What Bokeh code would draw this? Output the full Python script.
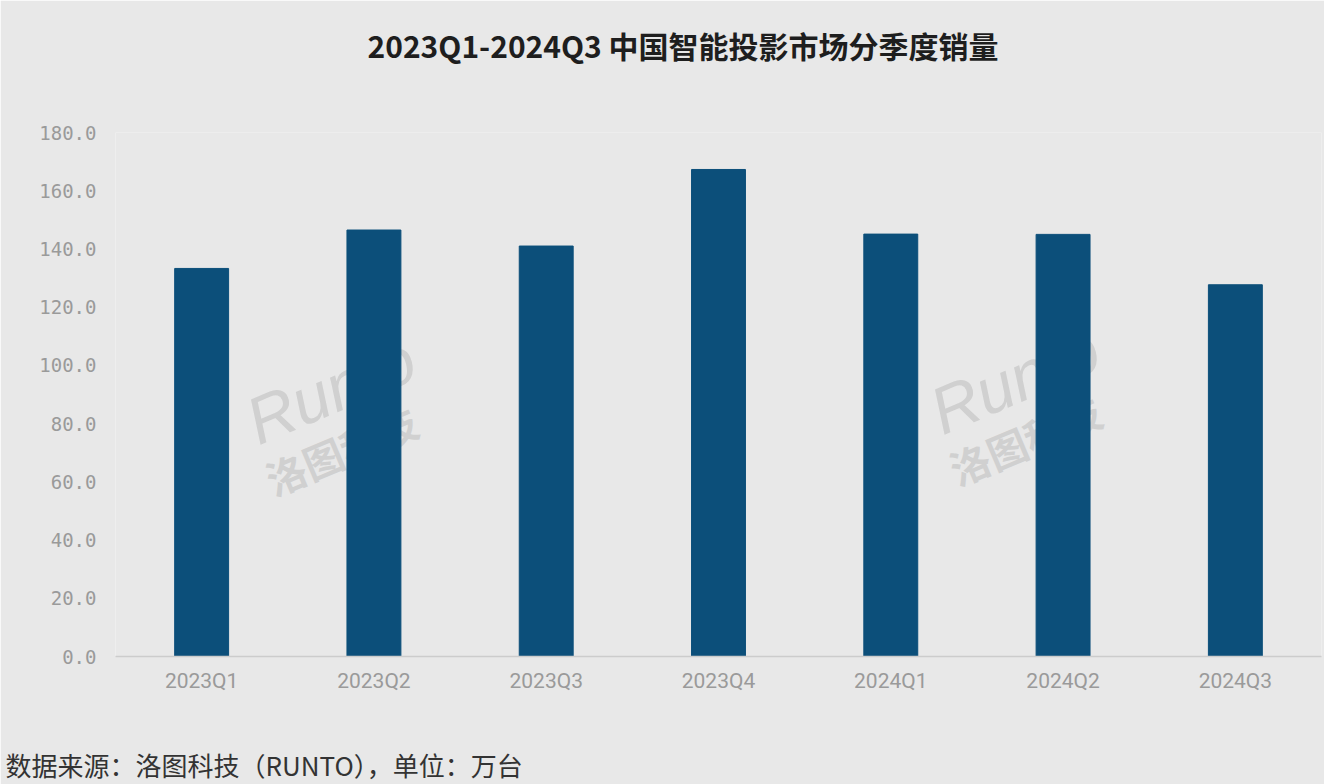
from bokeh.plotting import figure
from bokeh.models import FactorRange, Range1d, Label, NumeralTickFormatter, FixedTicker, Title
from bokeh.embed import file_html
from bokeh.resources import INLINE

quarters = ["2023Q1", "2023Q2", "2023Q3", "2023Q4", "2024Q1", "2024Q2", "2024Q3"]
sales = [133.3, 146.5, 141.0, 167.3, 145.1, 145.0, 127.7]
y_ticks = [0, 20, 40, 60, 80, 100, 120, 140, 160, 180]
title_text = "2023Q1-2024Q3 中国智能投影市场分季度销量"
source_text = "数据来源：洛图科技（RUNTO），单位：万台"

BG = "#e8e8e8"

p = figure(width=1324, height=784, x_range=FactorRange(*quarters),
           y_range=Range1d(0, 180), output_backend="svg", toolbar_location=None,
           min_border_left=115, min_border_right=3, min_border_top=132, min_border_bottom=128,
           background_fill_color=BG, border_fill_color=BG, outline_line_color=None)

# above: spacer (closest to frame) then title
p.add_layout(Title(text=" ", text_font_size="1px", standoff=63), "above")
p.add_layout(Title(text=title_text, align="left", offset=252, standoff=0, vertical_align="bottom",
                   text_font="Noto Sans CJK SC", text_font_style="bold",
                   text_font_size="30px", text_color="#1e1e1e"), "above")

# below: axis, spacer, then source note
p.add_layout(Title(text=" ", text_font_size="1px", standoff=45), "below")
p.add_layout(Title(text=source_text, align="left", offset=-110, standoff=0, vertical_align="bottom",
                   text_font="Noto Sans CJK SC", text_font_style="normal",
                   text_font_size="26px", text_color="#333333"), "below")

# watermarks (underlay)
for xc, yr, yc in [(1.25, 91.5, 70.9), (5.22, 95.0, 74.4)]:
    p.add_layout(Label(x=xc, y=yr, text="Runto", text_font="Liberation Sans", text_font_style="italic",
                       text_font_size="66px", text_color="#b8b8b8", text_alpha=0.5, angle=0.4,
                       text_align="center", text_baseline="middle", level="underlay"))
    p.add_layout(Label(x=xc + 0.06, y=yc, text="洛图科技", text_font="Noto Sans CJK SC", text_font_style="bold",
                       text_font_size="40px", text_color="#b8b8b8", text_alpha=0.5, angle=0.4,
                       text_align="center", text_baseline="middle", level="underlay"))

p.vbar(x=quarters, top=sales, width=0.313, color="#0c4f7a")

p.xgrid.visible = False
p.ygrid.visible = False

p.yaxis.ticker = FixedTicker(ticks=y_ticks)
p.yaxis.formatter = NumeralTickFormatter(format="0.0")
p.yaxis.axis_line_color = None
p.yaxis.major_tick_line_color = None
p.yaxis.minor_tick_line_color = None
p.yaxis.major_label_text_font = "DejaVu Sans Mono"
p.yaxis.major_label_text_font_size = "19px"
p.yaxis.major_label_text_color = "#9a9a9a"
p.yaxis.major_label_standoff = 13

p.xaxis.axis_line_color = "#cccccc"
p.xaxis.axis_line_width = 1.5
p.xaxis.major_tick_line_color = None
p.xaxis.minor_tick_line_color = None
p.xaxis.major_label_text_font = "Roboto"
p.xaxis.major_label_text_font_size = "21px"
p.xaxis.major_label_text_color = "#9a9a9a"
p.xaxis.major_label_standoff = 6

open("out.html", "w").write(file_html(p, INLINE))
